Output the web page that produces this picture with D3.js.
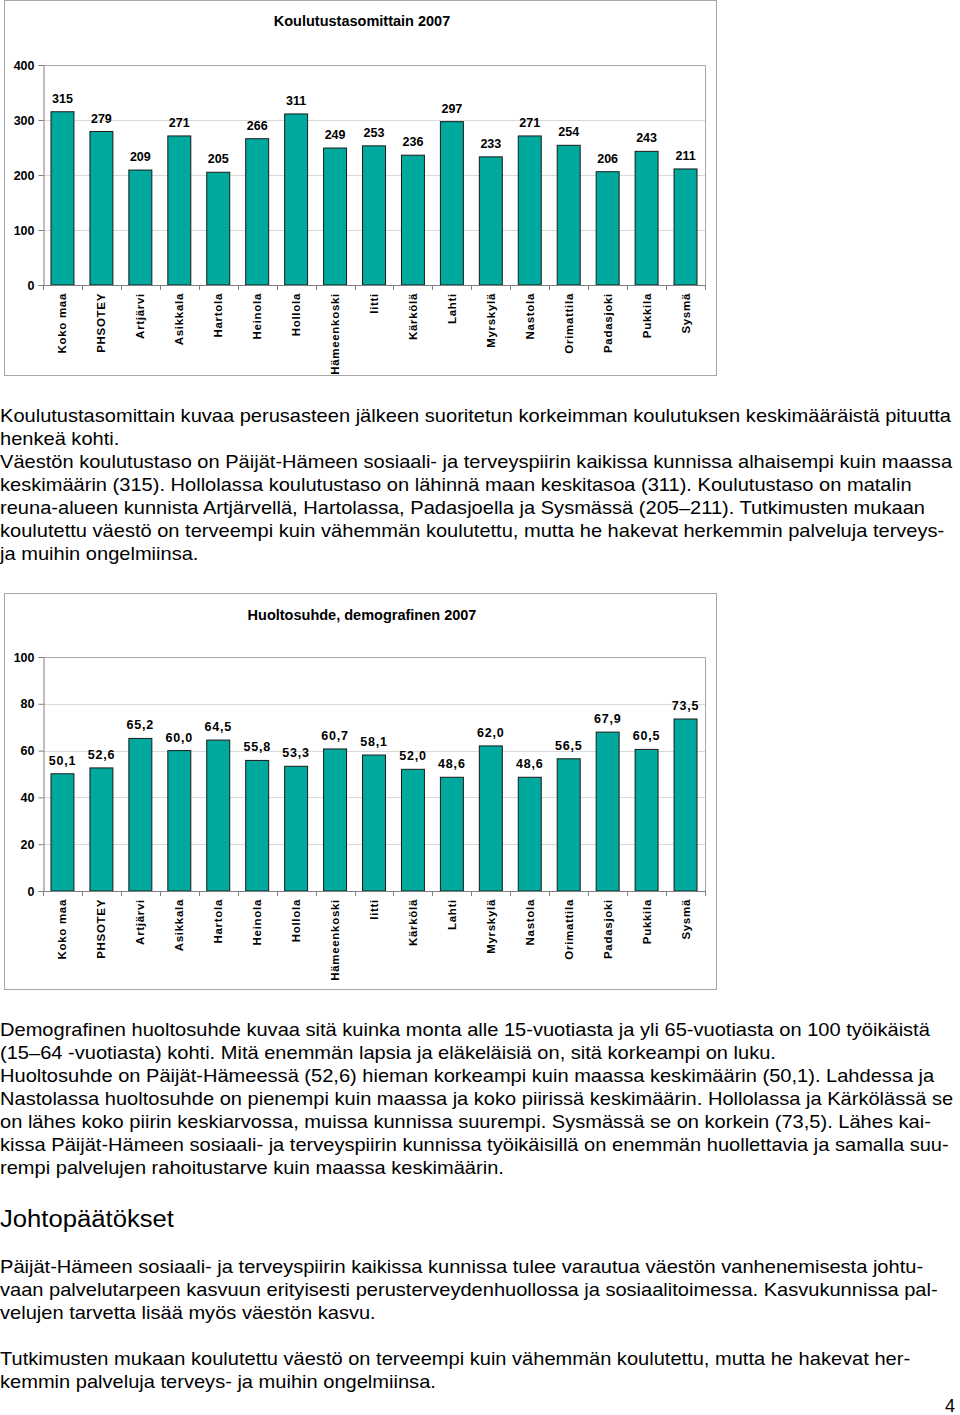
<!DOCTYPE html>
<html>
<head>
<meta charset="utf-8">
<script src="https://cdn.jsdelivr.net/npm/d3@7"></script>
<style>
  html, body { margin: 0; padding: 0; background: #fff; }
  svg { display: block; }
  .chart-title { font: bold 14.5px 'Liberation Sans', Arial, sans-serif; fill: #000; }
  .tick-label { font: bold 12.5px 'Liberation Sans', Arial, sans-serif; fill: #000; }
  .cat-label { font: bold 11.5px 'Liberation Sans', Arial, sans-serif; fill: #000; letter-spacing: 0.7px; }
  .value-label { font: bold 12.5px 'Liberation Sans', Arial, sans-serif; fill: #000; }
  .para { font: 18px 'Liberation Sans', Arial, sans-serif; fill: #000; }
  .heading { font: 23px 'Liberation Sans', Arial, sans-serif; fill: #000; }
</style>
</head>
<body>
<svg id="page" width="960" height="1415"></svg>
<script>
const categories = ['Koko maa', 'PHSOTEY', 'Artjärvi', 'Asikkala', 'Hartola', 'Heinola', 'Hollola',
    'Hämeenkoski', 'Iitti', 'Kärkölä', 'Lahti', 'Myrskylä', 'Nastola', 'Orimattila', 'Padasjoki',
    'Pukkila', 'Sysmä'];
const koulutusValues = [315, 279, 209, 271, 205, 266, 311, 249, 253, 236, 297, 233, 271, 254, 206, 243, 211];
const huoltoValues = [50.1, 52.6, 65.2, 60.0, 64.5, 55.8, 53.3, 60.7, 58.1, 52.0, 48.6, 62.0, 48.6, 56.5, 67.9, 60.5, 73.5];
const koulutusTicks = [0, 100, 200, 300, 400];
const huoltoTicks = [0, 20, 40, 60, 80, 100];

const text1 = [
    'Koulutustasomittain kuvaa perusasteen jälkeen suoritetun korkeimman koulutuksen keskimääräistä pituutta',
    'henkeä kohti.',
    'Väestön koulutustaso on Päijät-Hämeen sosiaali- ja terveyspiirin kaikissa kunnissa alhaisempi kuin maassa',
    'keskimäärin (315). Hollolassa koulutustaso on lähinnä maan keskitasoa (311). Koulutustaso on matalin',
    'reuna-alueen kunnista Artjärvellä, Hartolassa, Padasjoella ja Sysmässä (205–211). Tutkimusten mukaan',
    'koulutettu väestö on terveempi kuin vähemmän koulutettu, mutta he hakevat herkemmin palveluja terveys-',
    'ja muihin ongelmiinsa.'
];
const text2 = [
    'Demografinen huoltosuhde kuvaa sitä kuinka monta alle 15-vuotiasta ja yli 65-vuotiasta on 100 työikäistä',
    '(15–64 -vuotiasta) kohti. Mitä enemmän lapsia ja eläkeläisiä on, sitä korkeampi on luku.',
    'Huoltosuhde on Päijät-Hämeessä (52,6) hieman korkeampi kuin maassa keskimäärin (50,1). Lahdessa ja',
    'Nastolassa huoltosuhde on pienempi kuin maassa ja koko piirissä keskimäärin. Hollolassa ja Kärkölässä se',
    'on lähes koko piirin keskiarvossa, muissa kunnissa suurempi. Sysmässä se on korkein (73,5). Lähes kai-',
    'kissa Päijät-Hämeen sosiaali- ja terveyspiirin kunnissa työikäisillä on enemmän huollettavia ja samalla suu-',
    'rempi palvelujen rahoitustarve kuin maassa keskimäärin.'
];
const heading = 'Johtopäätökset';
const text3 = [
    'Päijät-Hämeen sosiaali- ja terveyspiirin kaikissa kunnissa tulee varautua väestön vanhenemisesta johtu-',
    'vaan palvelutarpeen kasvuun erityisesti perusterveydenhuollossa ja sosiaalitoimessa. Kasvukunnissa pal-',
    'velujen tarvetta lisää myös väestön kasvu.'
];
const text4 = [
    'Tutkimusten mukaan koulutettu väestö on terveempi kuin vähemmän koulutettu, mutta he hakevat her-',
    'kemmin palveluja terveys- ja muihin ongelmiinsa.'
];
const pageNumber = '4';

const svg = d3.select('#page');
const teal = '#00a99d';
const frameColor = '#a6a6a6';
const gridColor = '#d9d9d9';
const axisColor = '#7f7f7f';

function drawChart(opts) {
    const g = svg.append('g');
    const fmt = opts.format;

    g.append('rect')
        .attr('x', opts.frame.x + 0.5).attr('y', opts.frame.y + 0.5)
        .attr('width', opts.frame.w).attr('height', opts.frame.h)
        .attr('fill', '#fff').attr('stroke', frameColor);

    g.append('text')
        .attr('class', 'chart-title')
        .attr('x', opts.frame.x + opts.frame.w / 2 + 2)
        .attr('y', opts.titleY)
        .attr('text-anchor', 'middle')
        .text(opts.title);

    const x = d3.scaleBand()
        .domain(categories)
        .range([opts.left, opts.right])
        .paddingInner(0.41)
        .paddingOuter(0.205);
    const y = d3.scaleLinear()
        .domain([0, d3.max(opts.ticks)])
        .range([opts.bottom, opts.top]);

    // grid lines
    g.append('g')
        .selectAll('line')
        .data(opts.ticks.filter(t => t > 0 && t < d3.max(opts.ticks)))
        .join('line')
            .attr('x1', opts.left).attr('x2', opts.right)
            .attr('y1', d => Math.round(y(d)) + 0.5).attr('y2', d => Math.round(y(d)) + 0.5)
            .attr('stroke', gridColor);

    // plot border top + right
    g.append('path')
        .attr('d', `M${opts.left},${Math.round(y(d3.max(opts.ticks))) + 0.5}H${opts.right + 0.5}V${opts.bottom}`)
        .attr('fill', 'none')
        .attr('stroke', frameColor);

    // bars
    g.append('g')
        .selectAll('rect')
        .data(opts.values)
        .join('rect')
            .attr('x', (d, i) => x(categories[i]))
            .attr('y', d => y(d))
            .attr('width', x.bandwidth())
            .attr('height', d => y(0) - y(d))
            .attr('fill', teal)
            .attr('stroke', '#1a1a1a')
            .attr('stroke-width', 1);

    // value labels
    g.append('g')
        .selectAll('text')
        .data(opts.values)
        .join('text')
            .attr('class', 'value-label')
            .attr('x', (d, i) => x(categories[i]) + x.bandwidth() / 2)
            .attr('y', d => y(d) - 9)
            .attr('text-anchor', 'middle')
            .attr('letter-spacing', opts.labelSpacing)
            .text(d => fmt(d));

    // y axis
    const yAxis = d3.axisLeft(y)
        .tickValues(opts.ticks)
        .tickSize(5)
        .tickPadding(4)
        .tickFormat(d3.format('d'));
    const ya = g.append('g')
        .attr('transform', `translate(${opts.left + 0.5},0)`)
        .call(yAxis);
    ya.select('.domain').attr('stroke', axisColor);
    ya.selectAll('.tick line').attr('stroke', axisColor);
    ya.selectAll('.tick text').attr('class', 'tick-label').attr('font-size', null).attr('font-family', null);

    // x axis
    const step = x.step();
    const xa = g.append('g');
    xa.append('line')
        .attr('x1', opts.left).attr('x2', opts.right + 0.5)
        .attr('y1', opts.bottom + 0.5).attr('y2', opts.bottom + 0.5)
        .attr('stroke', axisColor);
    xa.selectAll('line.tk')
        .data(d3.range(categories.length + 1))
        .join('line')
            .attr('class', 'tk')
            .attr('x1', i => Math.round(opts.left + i * step) + 0.5)
            .attr('x2', i => Math.round(opts.left + i * step) + 0.5)
            .attr('y1', opts.bottom).attr('y2', opts.bottom + 5)
            .attr('stroke', axisColor);
    xa.selectAll('text')
        .data(categories)
        .join('text')
            .attr('class', 'cat-label')
            .attr('transform', d => `translate(${x(d) + x.bandwidth() / 2 + 4},${opts.bottom + 8}) rotate(-90)`)
            .attr('text-anchor', 'end')
            .text(d => d);
}

drawChart({
    title: 'Koulutustasomittain 2007',
    frame: { x: 4, y: 0, w: 712, h: 375 },
    titleY: 26,
    left: 43, right: 705, top: 65, bottom: 285,
    ticks: koulutusTicks,
    values: koulutusValues,
    format: d3.format('d'),
    labelSpacing: 0
});

drawChart({
    title: 'Huoltosuhde, demografinen 2007',
    frame: { x: 4, y: 593, w: 712, h: 396 },
    titleY: 620,
    left: 43, right: 705, top: 657, bottom: 891,
    ticks: huoltoTicks,
    values: huoltoValues,
    format: d => d3.format('.1f')(d).replace('.', ','),
    labelSpacing: 0.8
});

// body text
const textG = svg.append('g');
function block(lines, y0, cls, lh) {
    const t = textG.append('text').attr('class', cls);
    t.selectAll('tspan')
        .data(lines)
        .join('tspan')
            .attr('x', 0)
            .attr('y', (d, i) => y0 + i * lh)
            .text(d => d);
    return t;
}
const b1 = block(text1, 422, 'para', 23);
block(text2, 1036, 'para', 23);
block([heading], 1227, 'heading', 0);
block(text3, 1273, 'para', 23);
block(text4, 1365, 'para', 23);

// fit the widest line to the page width
const probe = b1.select('tspan').node().getComputedTextLength();
const sx = 952 / probe;
textG.attr('transform', `scale(${sx},1)`);

svg.append('text')
    .attr('class', 'para')
    .attr('x', 945).attr('y', 1412)
    .text(pageNumber);
</script>
</body>
</html>
